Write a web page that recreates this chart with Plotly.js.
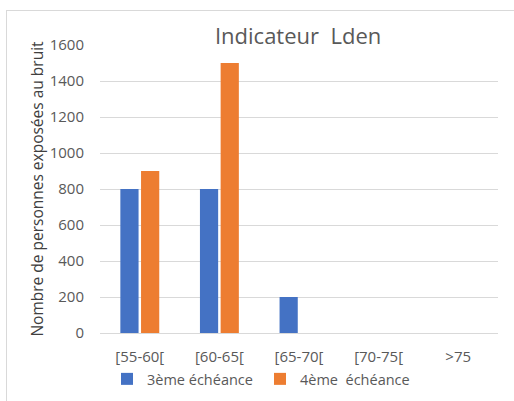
<!DOCTYPE html>
<html>
<head>
<meta charset="utf-8">
<script src="https://cdn.plot.ly/plotly-3.0.1.min.js"></script>
<style>
  body { margin: 0; background: #fff; }
  #frame { position: absolute; left: 6px; top: 10px; width: 520px; height: 400px; border: 1px solid #d9d9d9; }
  #chart { position: absolute; left: 0; top: 0; width: 514px; height: 401px; }
</style>
</head>
<body>
<div id="frame"></div>
<div id="chart"></div>
<script>
// Tranches de bruit et nombre de personnes exposées
const categories = ['[55-60[', '[60-65[', '[65-70[', '[70-75[', '>75'];
const echeance3 = [800, 800, 200, 0, 0];
const echeance4 = [900, 1500, 0, 0, 0];
const seriesNames = ['3ème échéance', '4ème\u00a0 échéance'];

const grey = '#595959';

const data = [
    {
        x: categories,
        y: echeance3,
        type: 'bar',
        name: seriesNames[0],
        marker: { color: '#4472C4' }
    },
    {
        x: categories,
        y: echeance4,
        type: 'bar',
        name: seriesNames[1],
        marker: { color: '#ED7D31' }
    }
];

const layout = {
    width: 514,
    height: 401,
    margin: { l: 100, r: 16, t: 45, b: 68 },
    paper_bgcolor: 'rgba(0,0,0,0)',
    plot_bgcolor: 'rgba(0,0,0,0)',
    font: { family: 'Open Sans, sans-serif', size: 15, color: grey },
    title: {
        text: 'Indicateur\u00a0 Lden',
        font: { size: 22, color: grey },
        x: 0.58, xanchor: 'center',
        y: 0.91, yanchor: 'middle'
    },
    barmode: 'group',
    bargap: 0.48,
    bargroupgap: 0.12,
    xaxis: {
        automargin: false,
        showgrid: false,
        showline: false,
        zeroline: false,
        ticks: 'outside',
        ticklen: 10,
        tickcolor: 'rgba(0,0,0,0)',
        tickfont: { size: 15, color: grey }
    },
    yaxis: {
        automargin: false,
        range: [0, 1600],
        dtick: 200,
        showgrid: true,
        gridcolor: '#d9d9d9',
        gridwidth: 1,
        zeroline: true,
        zerolinecolor: '#d9d9d9',
        showline: false,
        ticks: 'outside',
        ticklen: 12,
        tickcolor: 'rgba(0,0,0,0)',
        tickfont: { size: 15, color: grey },
        title: { text: 'Nombre de personnes exposées au bruit', font: { size: 15.5, color: '#404040' } }
    },
    showlegend: true,
    legend: {
        orientation: 'h',
        xref: 'paper', x: 0.402, xanchor: 'center',
        yref: 'container', y: 0.055, yanchor: 'middle',
        font: { size: 14.5, color: grey },
        itemwidth: 30,
        entrywidth: 108,
        entrywidthmode: 'pixels',
        traceorder: 'normal'
    }
};

Plotly.newPlot('chart', data, layout, { staticPlot: true });
</script>
</body>
</html>
